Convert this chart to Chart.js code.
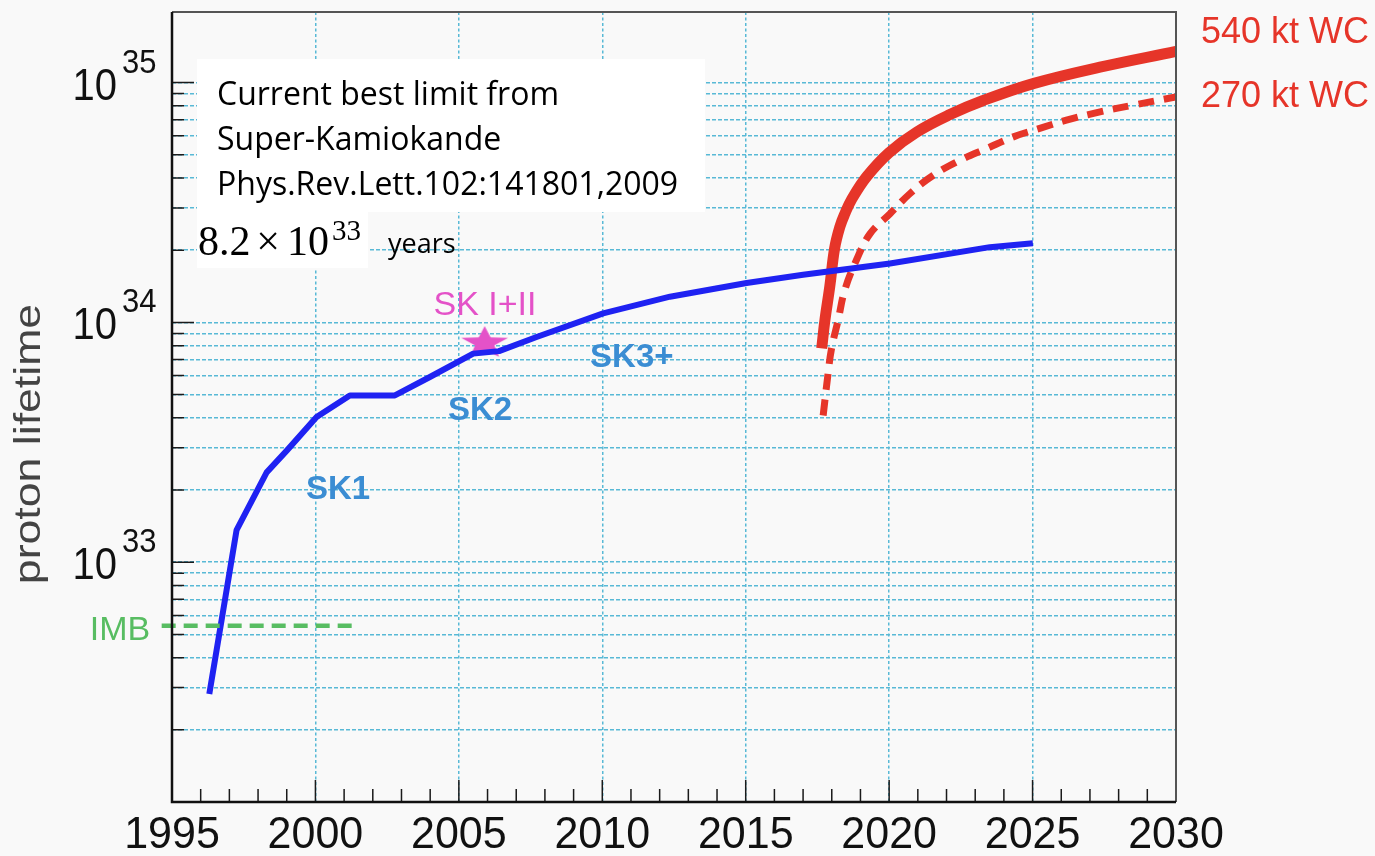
<!DOCTYPE html>
<html>
<head>
<meta charset="utf-8">
<script src="https://cdn.jsdelivr.net/npm/chart.js@4.4.1/dist/chart.umd.min.js"></script>
<style>
  html, body { margin: 0; padding: 0; background: #f9f9f9; }
  #wrap { width: 1375px; height: 856px; position: relative; }
</style>
</head>
<body>
<div id="wrap"><canvas id="c"></canvas></div>
<script>
// ---------- axis ticks ----------
const xTickYears = [1995, 2000, 2005, 2010, 2015, 2020, 2025, 2030];
const yDecades = [1e32, 1e33, 1e34, 1e35];
const yMinorSteps = [2, 3, 4, 5, 6, 7, 8, 9];

// ---------- Super-Kamiokande sensitivity (years) ----------
const skYears = [1996.30, 1997.25, 1998.30, 1999.00, 2000.04, 2001.20, 2002.77, 2003.99, 2005.50,
                 2006.40, 2007.71, 2010.03, 2012.36, 2015.03, 2017.00, 2020.03, 2023.51, 2025.01];
const skLifetime = [2.82e32, 1.36e33, 2.37e33, 2.92e33, 4.03e33, 4.96e33, 4.96e33, 5.92e33, 7.41e33,
                    7.59e33, 8.69e33, 1.09e34, 1.28e34, 1.46e34, 1.58e34, 1.76e34, 2.06e34, 2.14e34];

// ---------- 540 kt water Cherenkov ----------
const wc540Years = [2017.65, 2017.76, 2017.93, 2018.10, 2018.28, 2018.45, 2018.70, 2019.22, 2020.00,
                    2020.96, 2022.12, 2023.28, 2025.05, 2027.35, 2030.00];
const wc540Lifetime = [7.80e33, 1.02e34, 1.41e34, 2.04e34, 2.50e34, 2.83e34, 3.27e34, 4.06e34, 5.11e34,
                       6.22e34, 7.36e34, 8.42e34, 9.93e34, 1.16e35, 1.35e35];

// ---------- 270 kt water Cherenkov ----------
const wc270Years = [2017.70, 2017.87, 2017.99, 2018.22, 2018.45, 2018.86, 2019.33, 2020.03, 2020.72,
                    2021.54, 2022.47, 2023.40, 2024.33, 2025.25, 2026.18, 2027.35, 2028.50, 2030.00];
const wc270Lifetime = [4.09e33, 6.11e33, 7.76e33, 1.02e34, 1.36e34, 1.82e34, 2.34e34, 2.84e34, 3.44e34,
                       4.11e34, 4.74e34, 5.31e34, 5.94e34, 6.44e34, 6.97e34, 7.55e34, 8.05e34, 8.71e34];

// ---------- IMB limit ----------
const imbYears = [1994.64, 2001.49];
const imbLifetime = [5.43e32, 5.43e32];

// ---------- SK I+II published limit ----------
const skLimitYear = [2005.9];
const skLimitLifetime = [8.2e33];

// ---------- colours ----------
const BLUE = '#1f22f2';
const RED = '#e63529';
const GREEN = '#58bd62';
const PINK = '#e452c8';
const LABEL_BLUE = '#3b8dd3';
const GRID = '#58b9d6';

const pts = (xs, ys) => xs.map((x, i) => ({ x: x, y: ys[i] }));

// filled five-pointed star used as the marker of the SK I+II limit
function makeStar(color, rOuter, rInner, sx) {
  const w = Math.ceil(2 * rOuter * sx) + 4, h = Math.ceil(2 * rOuter) + 4;
  const c = document.createElement('canvas');
  c.width = w; c.height = h;
  const g = c.getContext('2d');
  g.translate(w / 2, h / 2);
  g.scale(sx, 1);
  g.beginPath();
  for (let i = 0; i < 10; i++) {
    const r = i % 2 ? rInner : rOuter;
    const a = -Math.PI / 2 + i * Math.PI / 5;
    g.lineTo(r * Math.cos(a), r * Math.sin(a));
  }
  g.closePath();
  g.fillStyle = color;
  g.fill();
  return c;
}
const starMarker = makeStar(PINK, 17, 7, 1.45);

function text(ctx, s, x, y, font, color, align, sx, sy) {
  ctx.save();
  ctx.translate(x, y);
  ctx.scale(sx || 1, sy || 1);
  ctx.font = font;
  ctx.fillStyle = color;
  ctx.textAlign = align || 'left';
  ctx.textBaseline = 'alphabetic';
  ctx.fillText(s, 0, 0);
  ctx.restore();
}

const decor = {
  id: 'decor',
  afterDatasetsDraw(chart) {
    const { ctx, chartArea: a, scales: { x, y } } = chart;
    ctx.save();

    // inner tick marks on the left axis
    ctx.strokeStyle = '#1a1a1a';
    ctx.lineWidth = 1.5;
    ctx.beginPath();
    for (const t of y.ticks) {
      const py = y.getPixelForValue(t.value);
      if (py <= a.top + 1 || py >= a.bottom - 1) continue;
      const major = yDecades.includes(t.value);
      ctx.moveTo(a.left, py);
      ctx.lineTo(a.left + (major ? 22 : 12), py);
    }
    // inner tick marks on the bottom axis, one per year
    for (let yr = xTickYears[0] + 1; yr < xTickYears[xTickYears.length - 1]; yr++) {
      const px = x.getPixelForValue(yr);
      const major = xTickYears.includes(yr);
      ctx.moveTo(px, a.bottom);
      ctx.lineTo(px, a.bottom - (major ? 22 : 13));
    }
    ctx.stroke();

    // frame
    ctx.strokeStyle = '#555';
    ctx.lineWidth = 2;
    ctx.beginPath();
    ctx.moveTo(a.left, a.top); ctx.lineTo(a.right, a.top); ctx.lineTo(a.right, a.bottom);
    ctx.stroke();
    ctx.strokeStyle = '#111';
    ctx.lineWidth = 2.5;
    ctx.beginPath();
    ctx.moveTo(a.left, a.top); ctx.lineTo(a.left, a.bottom); ctx.lineTo(a.right, a.bottom);
    ctx.stroke();

    // y tick labels: 10^n
    for (const v of yDecades) {
      const py = y.getPixelForValue(v);
      if (py < a.top - 5 || py > a.bottom - 5) continue;
      const exp = String(Math.round(Math.log10(v)));
      text(ctx, '10', 117, py + 17, '40px "Liberation Sans", Arial, sans-serif', '#111', 'right', 1, 1.09);
      text(ctx, exp, 122, py - 10, '31px "Liberation Sans", Arial, sans-serif', '#111', 'left', 1, 1.1);
    }
    // x tick labels
    for (const yr of xTickYears) {
      text(ctx, String(yr), x.getPixelForValue(yr), 848, '43px "Liberation Sans", Arial, sans-serif', '#111', 'center', 1, 1.05);
    }
    // y axis title
    ctx.save();
    ctx.translate(40, 444);
    ctx.rotate(-Math.PI / 2);
    ctx.scale(1.24, 1);
    ctx.font = '36px "Liberation Sans", Arial, sans-serif';
    ctx.fillStyle = '#444';
    ctx.textAlign = 'center';
    ctx.fillText('proton lifetime', 0, 0);
    ctx.restore();

    // curve annotations, anchored in data coordinates
    const at = (yr, v) => [x.getPixelForValue(yr), y.getPixelForValue(v)];
    const lab = (s, yr, v, font, color, align) => {
      const [px, py] = at(yr, v);
      ctx.save();
      ctx.font = font; ctx.fillStyle = color;
      ctx.textAlign = align || 'center'; ctx.textBaseline = 'middle';
      ctx.fillText(s, px, py);
      ctx.restore();
    };
    const skFont = 'bold 33px "Liberation Sans", Arial, sans-serif';
    lab('SK1', 2000.79, 2.0e33, skFont, LABEL_BLUE);
    lab('SK2', 2005.74, 4.27e33, skFont, LABEL_BLUE);
    lab('SK3+', 2011.03, 7.08e33, skFont, LABEL_BLUE);
    lab('SK I+II', 2005.91, 1.18e34, '34px "Liberation Sans", Arial, sans-serif', PINK);
    lab('IMB', 1993.19, 5.18e32, '34px "Liberation Sans", Arial, sans-serif', GREEN);
    lab('540 kt WC', 2030.87, 1.61e35, '36px "Liberation Sans", Arial, sans-serif', RED, 'left');
    lab('270 kt WC', 2030.87, 8.69e34, '36px "Liberation Sans", Arial, sans-serif', RED, 'left');

    // reference box with the current best limit
    ctx.fillStyle = '#ffffff';
    ctx.fillRect(197, 59, 508, 153);
    ctx.fillRect(197, 212, 171, 56);
    const boxFont = '32px "Open Sans", Lato, sans-serif';
    text(ctx, 'Current best limit from', 217, 105, boxFont, '#000');
    text(ctx, 'Super-Kamiokande', 217, 150, boxFont, '#000');
    text(ctx, 'Phys.Rev.Lett.102:141801,2009', 217, 195, boxFont, '#000');
    const mathFont = '42px "Liberation Serif", "DejaVu Serif", serif';
    text(ctx, '8.2', 198, 255, mathFont, '#000');
    text(ctx, '\u00d7', 268, 255, mathFont, '#000', 'center');
    text(ctx, '10', 287, 255, mathFont, '#000');
    text(ctx, '33', 332, 240, '29px "Liberation Serif", "DejaVu Serif", serif', '#000');
    text(ctx, 'years', 388, 253, '27px "Open Sans", Lato, sans-serif', '#000');

    ctx.restore();
  }
};

const chart = new Chart(document.getElementById('c'), {
  type: 'line',
  data: {
    datasets: [
      { label: 'IMB', data: pts(imbYears, imbLifetime), borderColor: GREEN, borderWidth: 4.5,
        borderDash: [14, 8], pointRadius: 0, tension: 0, clip: false },
      { label: 'SK', data: pts(skYears, skLifetime), borderColor: BLUE, borderWidth: 6,
        borderJoinStyle: 'round', pointRadius: 0, tension: 0 },
      { label: '540 kt WC', data: pts(wc540Years, wc540Lifetime), borderColor: RED, borderWidth: 11,
        borderJoinStyle: 'round', pointRadius: 0, tension: 0.4 },
      { label: '270 kt WC', data: pts(wc270Years, wc270Lifetime), borderColor: RED, borderWidth: 7,
        borderDash: [16, 10], pointRadius: 0, tension: 0.4 },
      { label: 'SK I+II', data: pts(skLimitYear, skLimitLifetime), showLine: false,
        pointStyle: starMarker, pointRadius: 10, borderWidth: 0 }
    ]
  },
  options: {
    responsive: true,
    maintainAspectRatio: false,
    animation: false,
    events: [],
    layout: { padding: { left: 172, top: 12, right: 199, bottom: 54 } },
    plugins: { legend: { display: false }, tooltip: { enabled: false } },
    scales: {
      x: {
        type: 'linear', min: 1995, max: 2030,
        afterBuildTicks: s => { s.ticks = xTickYears.map(v => ({ value: v })); },
        ticks: { display: false },
        grid: {
          drawTicks: false, lineWidth: 1.5,
          color: c => (c.tick && (c.tick.value === 1995 || c.tick.value === 2030)) ? 'rgba(0,0,0,0)' : GRID
        },
        border: { display: false, dash: [3, 2.5] }
      },
      y: {
        type: 'logarithmic', min: 1e32, max: 1.97e35,
        afterBuildTicks: s => {
          const t = [];
          for (const d of yDecades) {
            t.push({ value: d });
            for (const k of yMinorSteps) t.push({ value: d * k });
          }
          s.ticks = t.filter(o => o.value > s.min && o.value < s.max);
        },
        ticks: { display: false },
        grid: { drawTicks: false, lineWidth: 1.5, color: GRID },
        border: { display: false, dash: [4, 2] }
      }
    }
  },
  plugins: [decor]
});
</script>
</body>
</html>
